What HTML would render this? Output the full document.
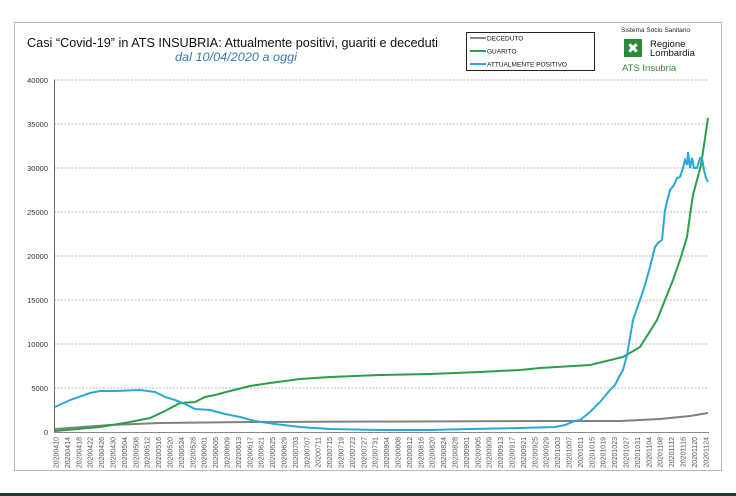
<!DOCTYPE html>
<html><head><meta charset="utf-8"><style>
body{margin:0;width:736px;height:496px;background:#fff;overflow:hidden}
svg{display:block}
</style></head><body>
<svg width="736" height="496" viewBox="0 0 736 496" xmlns="http://www.w3.org/2000/svg" font-family="Liberation Sans, sans-serif">
<rect x="0" y="0" width="736" height="496" fill="#fff"/>
<rect x="14.5" y="22.5" width="707" height="448" fill="#fff" stroke="#bbb" stroke-width="1"/>
<rect x="0" y="493" width="736" height="3" fill="#1f3b2f"/>
<text x="27" y="47" font-size="13" fill="#111" textLength="411" lengthAdjust="spacingAndGlyphs">Casi “Covid-19” in ATS INSUBRIA: Attualmente positivi, guariti e deceduti</text>
<text x="175" y="61" font-size="12" font-style="italic" fill="#3a7ab0" textLength="122" lengthAdjust="spacingAndGlyphs">dal 10/04/2020 a oggi</text>
<rect x="466.5" y="32.5" width="128" height="38" fill="#fff" stroke="#222" stroke-width="1"/>
<g font-size="6.5" fill="#111">
<line x1="470" y1="38" x2="486" y2="38" stroke="#888" stroke-width="2"/><text x="487" y="40.5">DECEDUTO</text>
<line x1="470" y1="51" x2="486" y2="51" stroke="#2aa04a" stroke-width="2"/><text x="487" y="53.5">GUARITO</text>
<line x1="470" y1="64" x2="486" y2="64" stroke="#2aa7d6" stroke-width="2"/><text x="487" y="66.5" textLength="80" lengthAdjust="spacingAndGlyphs">ATTUALMENTE POSITIVO</text>
</g>
<text x="621" y="32" font-size="6.5" fill="#222">Sistema Socio Sanitario</text>
<rect x="624" y="39" width="18" height="18" fill="#2a8a3a"/>
<text x="633" y="53" font-size="14" fill="#fff" text-anchor="middle">✖</text>
<text x="650" y="47" font-size="9.5" fill="#111">Regione</text>
<text x="650" y="56" font-size="9.5" fill="#111">Lombardia</text>
<text x="622" y="71" font-size="9.5" fill="#2a8a3a">ATS Insubria</text>
<g stroke="#bbb" stroke-width="1" stroke-dasharray="2,1.5">
<line x1="54" y1="80" x2="708" y2="80"/><line x1="54" y1="124" x2="708" y2="124"/>
<line x1="54" y1="168" x2="708" y2="168"/><line x1="54" y1="212" x2="708" y2="212"/>
<line x1="54" y1="256" x2="708" y2="256"/><line x1="54" y1="300" x2="708" y2="300"/>
<line x1="54" y1="344" x2="708" y2="344"/><line x1="54" y1="388" x2="708" y2="388"/>
</g>
<line x1="54.5" y1="80" x2="54.5" y2="433" stroke="#666"/>
<line x1="54" y1="432.5" x2="709" y2="432.5" stroke="#888"/>
<g font-size="7.5" fill="#333" text-anchor="end">
<text x="48" y="83">40000</text><text x="48" y="127">35000</text><text x="48" y="171">30000</text><text x="48" y="215">25000</text><text x="48" y="259">20000</text><text x="48" y="303">15000</text><text x="48" y="347">10000</text><text x="48" y="391">5000</text><text x="48" y="435">0</text>
</g>
<polyline fill="none" stroke="#808080" stroke-width="2" points="55,429 110,425 160,423 250,422 550,421 620,421 660,419 690,416 708,413"/>
<polyline fill="none" stroke="#2a9f48" stroke-width="2" points="55,431 100,427 130,422 150,418 165,411 180,403 195,402 205,397 215,395 230,391 250,386 270,383 300,379 330,377 380,375 430,374 480,372 520,370 540,368 590,365 623,357 640,347 657,320 665,300 673,280 680,260 687,237 690,215 693,195 697,180 701,165 704,145 708,118"/>
<polyline fill="none" stroke="#2aa7d6" stroke-width="2" points="55,407 70,400 90,393 100,391 115,391 140,390 155,392 165,397 175,400 185,404 195,409 210,410 225,414 240,417 255,421 275,424 300,427 330,429 380,430 430,430 470,429 520,428 555,427 565,425 575,421 580,420 590,412 600,402 610,390 615,385 619,377 623,370 627,355 633,320 640,300 645,285 650,267 655,247 658,243 662,240 665,210 670,190 674,185 677,178 680,177 683,168 685,160 687,165 688,152 690,168 692,158 694,168 697,168 700,158 702,158 704,170 706,178 708,182"/>
<g font-size="7" fill="#555" text-anchor="end">
<text transform="translate(58.5,437) rotate(-90)">20200410</text>
<text transform="translate(69.9,437) rotate(-90)">20200414</text>
<text transform="translate(81.3,437) rotate(-90)">20200418</text>
<text transform="translate(92.7,437) rotate(-90)">20200422</text>
<text transform="translate(104.1,437) rotate(-90)">20200426</text>
<text transform="translate(115.5,437) rotate(-90)">20200430</text>
<text transform="translate(126.9,437) rotate(-90)">20200504</text>
<text transform="translate(138.3,437) rotate(-90)">20200508</text>
<text transform="translate(149.7,437) rotate(-90)">20200512</text>
<text transform="translate(161.1,437) rotate(-90)">20200516</text>
<text transform="translate(172.5,437) rotate(-90)">20200520</text>
<text transform="translate(183.9,437) rotate(-90)">20200524</text>
<text transform="translate(195.3,437) rotate(-90)">20200528</text>
<text transform="translate(206.7,437) rotate(-90)">20200601</text>
<text transform="translate(218.1,437) rotate(-90)">20200605</text>
<text transform="translate(229.5,437) rotate(-90)">20200609</text>
<text transform="translate(240.9,437) rotate(-90)">20200613</text>
<text transform="translate(252.3,437) rotate(-90)">20200617</text>
<text transform="translate(263.7,437) rotate(-90)">20200621</text>
<text transform="translate(275.1,437) rotate(-90)">20200625</text>
<text transform="translate(286.5,437) rotate(-90)">20200629</text>
<text transform="translate(297.9,437) rotate(-90)">20200703</text>
<text transform="translate(309.3,437) rotate(-90)">20200707</text>
<text transform="translate(320.7,437) rotate(-90)">20200711</text>
<text transform="translate(332.1,437) rotate(-90)">20200715</text>
<text transform="translate(343.5,437) rotate(-90)">20200719</text>
<text transform="translate(354.9,437) rotate(-90)">20200723</text>
<text transform="translate(366.3,437) rotate(-90)">20200727</text>
<text transform="translate(377.7,437) rotate(-90)">20200731</text>
<text transform="translate(389.1,437) rotate(-90)">20200804</text>
<text transform="translate(400.5,437) rotate(-90)">20200808</text>
<text transform="translate(411.9,437) rotate(-90)">20200812</text>
<text transform="translate(423.3,437) rotate(-90)">20200816</text>
<text transform="translate(434.7,437) rotate(-90)">20200820</text>
<text transform="translate(446.1,437) rotate(-90)">20200824</text>
<text transform="translate(457.5,437) rotate(-90)">20200828</text>
<text transform="translate(468.9,437) rotate(-90)">20200901</text>
<text transform="translate(480.3,437) rotate(-90)">20200905</text>
<text transform="translate(491.7,437) rotate(-90)">20200909</text>
<text transform="translate(503.1,437) rotate(-90)">20200913</text>
<text transform="translate(514.5,437) rotate(-90)">20200917</text>
<text transform="translate(525.9,437) rotate(-90)">20200921</text>
<text transform="translate(537.3,437) rotate(-90)">20200925</text>
<text transform="translate(548.7,437) rotate(-90)">20200929</text>
<text transform="translate(560.1,437) rotate(-90)">20201003</text>
<text transform="translate(571.5,437) rotate(-90)">20201007</text>
<text transform="translate(582.9,437) rotate(-90)">20201011</text>
<text transform="translate(594.3,437) rotate(-90)">20201015</text>
<text transform="translate(605.7,437) rotate(-90)">20201019</text>
<text transform="translate(617.1,437) rotate(-90)">20201023</text>
<text transform="translate(628.5,437) rotate(-90)">20201027</text>
<text transform="translate(639.9,437) rotate(-90)">20201031</text>
<text transform="translate(651.3,437) rotate(-90)">20201104</text>
<text transform="translate(662.7,437) rotate(-90)">20201108</text>
<text transform="translate(674.1,437) rotate(-90)">20201112</text>
<text transform="translate(685.5,437) rotate(-90)">20201116</text>
<text transform="translate(696.9,437) rotate(-90)">20201120</text>
<text transform="translate(708.3,437) rotate(-90)">20201124</text>
</g>
</svg>
</body></html>
